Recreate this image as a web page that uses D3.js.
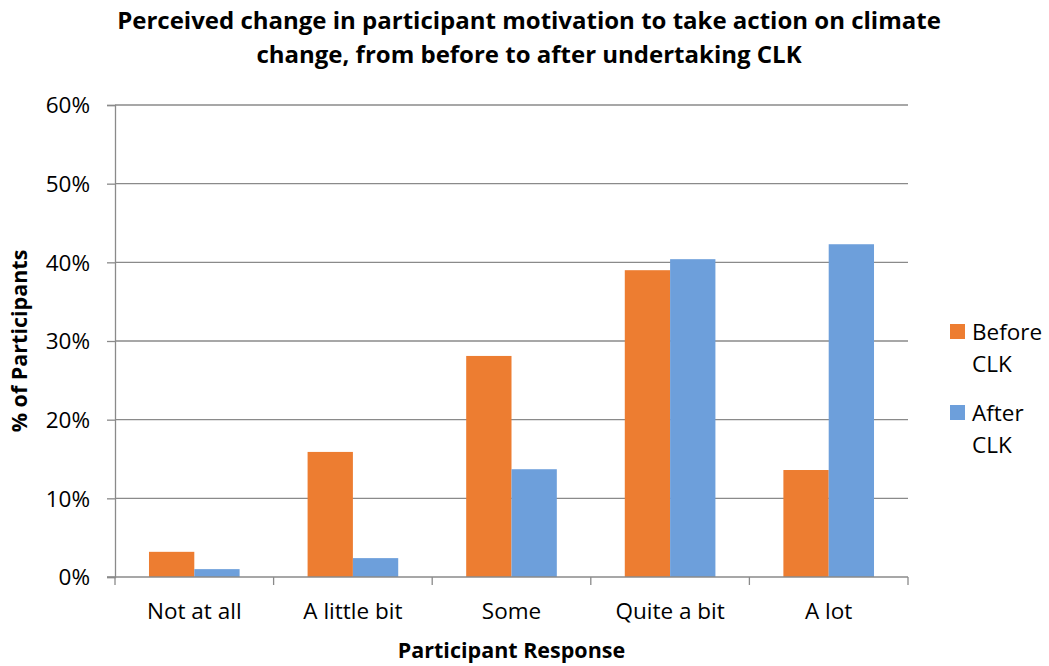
<!DOCTYPE html>
<html>
<head>
<meta charset="utf-8">
<script src="https://cdn.jsdelivr.net/npm/d3@7"></script>
<style>
  body { margin: 0; background: #fff; }
  svg text { font-family: "Open Sans", "Noto Sans", sans-serif; fill: #000; }
</style>
</head>
<body>
<div id="container"></div>
<script>
/* DATA */
const categories = ["Not at all", "A little bit", "Some", "Quite a bit", "A lot"]
const seriesNames = ["Before CLK", "After CLK"]
const beforeCLK = [3.2, 15.9, 28.1, 39.0, 13.6]
const afterCLK = [1.0, 2.4, 13.7, 40.4, 42.3]
const yTicks = [0, 10, 20, 30, 40, 50, 60]
const colors = ["#ED7D31", "#6D9FDB"]

/* CONSTANTS */
const width = 1049,
  height = 666,
  margin = { top: 105, bottom: 89, left: 115, right: 141 }

const series = [beforeCLK, afterCLK]

const svg = d3.select("#container")
  .append("svg")
  .attr("width", width)
  .attr("height", height)

const xScale = d3.scaleBand()
  .domain(categories)
  .range([margin.left, width - margin.right])

const xInner = d3.scaleBand()
  .domain(seriesNames)
  .range([0, xScale.bandwidth()])
  .paddingOuter(0.75)
  .paddingInner(0)

const yScale = d3.scaleLinear()
  .domain([0, 60])
  .range([height - margin.bottom, margin.top])

// gridlines
svg.append("g")
  .selectAll("line")
  .data(yTicks.slice(1))
  .join("line")
  .attr("x1", margin.left)
  .attr("x2", width - margin.right)
  .attr("y1", d => yScale(d))
  .attr("y2", d => yScale(d))
  .attr("stroke", "#8a8a8a")
  .attr("stroke-width", 1.3)

// y axis
const yAxis = d3.axisLeft(yScale)
  .tickValues(yTicks)
  .tickSize(8)
  .tickPadding(17)
  .tickFormat(d => d + "%")

const yAxisGroup = svg.append("g")
  .attr("class", "yAxis")
  .attr("transform", `translate(${margin.left}, 0)`)
  .call(yAxis)

yAxisGroup.select(".domain").attr("stroke", "#8a8a8a").attr("stroke-width", 1.3)
yAxisGroup.selectAll(".tick line").attr("stroke", "#8a8a8a").attr("stroke-width", 1.3)
yAxisGroup.selectAll(".tick text")
  .attr("font-size", 22.5)
  .attr("dy", "0.35em")

// bars
svg.append("g")
  .selectAll("g")
  .data(series)
  .join("g")
  .attr("fill", (d, i) => colors[i])
  .selectAll("rect")
  .data((d, i) => d.map((v, j) => ({ cat: categories[j], name: seriesNames[i], value: v })))
  .join("rect")
  .attr("x", d => xScale(d.cat) + xInner(d.name))
  .attr("width", xInner.bandwidth())
  .attr("y", d => yScale(d.value))
  .attr("height", d => yScale(0) - yScale(d.value))

// x axis
const xAxis = d3.axisBottom(xScale)
  .tickSize(0)
  .tickPadding(26)

const xAxisGroup = svg.append("g")
  .attr("class", "xAxis")
  .attr("transform", `translate(0, ${height - margin.bottom})`)
  .call(xAxis)

xAxisGroup.select(".domain").remove()
xAxisGroup.selectAll(".tick text").attr("font-size", 22.5)

xAxisGroup.append("line")
  .attr("x1", margin.left - 8)
  .attr("x2", width - margin.right)
  .attr("stroke", "#8a8a8a")
  .attr("stroke-width", 1.3)

// x ticks at category boundaries
xAxisGroup.selectAll(".boundary")
  .data(categories.map(c => xScale(c)).concat([width - margin.right]))
  .join("line")
  .attr("class", "boundary")
  .attr("x1", d => d)
  .attr("x2", d => d)
  .attr("y1", 0)
  .attr("y2", 8)
  .attr("stroke", "#8a8a8a")
  .attr("stroke-width", 1.3)

// axis titles
svg.append("text")
  .attr("x", (margin.left + width - margin.right) / 2)
  .attr("y", 658)
  .attr("text-anchor", "middle")
  .attr("font-size", 21.5)
  .attr("font-weight", "bold")
  .text("Participant Response")

svg.append("text")
  .attr("transform", `translate(27, ${(margin.top + height - margin.bottom) / 2}) rotate(-90)`)
  .attr("text-anchor", "middle")
  .attr("font-size", 21.5)
  .attr("font-weight", "bold")
  .text("% of Participants")

// title
const title = svg.append("text")
  .attr("text-anchor", "middle")
  .attr("font-size", 24)
  .attr("font-weight", "bold")

title.append("tspan")
  .attr("x", 529)
  .attr("y", 29)
  .text("Perceived change in participant motivation to take action on climate")

title.append("tspan")
  .attr("x", 529)
  .attr("y", 63)
  .text("change, from before to after undertaking CLK")

// legend
const legend = svg.append("g")
  .selectAll("g")
  .data(seriesNames)
  .join("g")
  .attr("transform", (d, i) => `translate(950, ${324 + i * 81})`)

legend.append("rect")
  .attr("width", 15)
  .attr("height", 15)
  .attr("fill", (d, i) => colors[i])

const legendText = legend.append("text")
  .attr("font-size", 22.5)

legendText.append("tspan")
  .attr("x", 22)
  .attr("y", 16)
  .text(d => d.split(" ")[0])

legendText.append("tspan")
  .attr("x", 22)
  .attr("y", 48)
  .text(d => d.split(" ")[1])
</script>
</body>
</html>
